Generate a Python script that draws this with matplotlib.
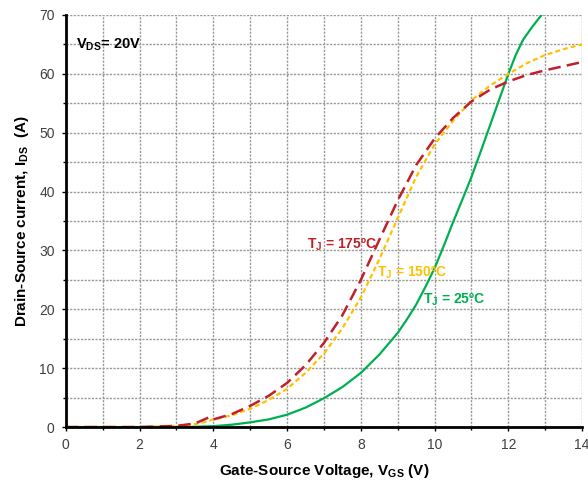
import numpy as np
import matplotlib.pyplot as plt
from matplotlib.ticker import MultipleLocator

plt.rcParams['font.family'] = ['Liberation Sans', 'DejaVu Sans']

# 传输特性曲线数据 (VGS, IDS)
vgs_25 = [0, 1, 2, 3, 3.5, 4, 4.5, 5, 5.5, 6, 6.5, 7, 7.5, 8, 8.5, 9, 9.25, 9.5, 9.75, 10, 10.25, 10.5, 10.75, 11, 11.25, 11.5, 11.75, 12, 12.2, 12.4, 12.65, 12.9]
ids_25 = [0, 0, 0, 0, 0.05, 0.15, 0.4, 0.8, 1.3, 2.1, 3.3, 4.9, 6.8, 9.2, 12.3, 16.0, 18.3, 20.8, 23.8, 27.0, 30.8, 34.8, 38.6, 42.5, 46.8, 51.2, 55.6, 60.0, 63.2, 65.8, 68.0, 70.0]

vgs_150 = [0, 1, 2, 3, 3.5, 3.8, 4.0, 4.5, 5, 5.5, 6, 6.5, 7, 7.5, 8, 8.5, 9, 9.5, 10, 10.5, 11, 11.5, 12, 12.5, 13, 13.5, 14]
ids_150 = [0, 0, 0, 0.2, 0.5, 0.9, 1.3, 2.0, 3.1, 4.6, 6.5, 9.2, 12.5, 16.8, 22.0, 28.5, 35.5, 42.5, 48.0, 52.0, 55.5, 58.0, 60.0, 61.8, 63.2, 64.2, 65.0]

vgs_175 = [0, 1, 2, 3, 3.5, 3.9, 4.0, 4.5, 5, 5.5, 6, 6.5, 7, 7.5, 8, 8.5, 9, 9.5, 10, 10.5, 11, 11.5, 12, 12.5, 13, 13.5, 14]
ids_175 = [0, 0, 0, 0.2, 0.6, 1.7, 1.3, 2.2, 3.6, 5.3, 7.5, 10.5, 14.3, 19.0, 25.0, 31.8, 38.5, 44.5, 49.0, 52.5, 55.3, 57.3, 58.7, 59.8, 60.6, 61.3, 62.0]

fig = plt.figure(figsize=(5.88, 4.82), dpi=100)
ax = fig.add_axes([0.112, 0.114, 0.878, 0.855])

ax.plot(vgs_25, ids_25, color='#00B050', lw=1.6)
ax.plot(vgs_150, ids_150, color='#FFC000', lw=1.6, linestyle=(0, (2.2, 1.4)))
ax.plot(vgs_175, ids_175, color='#C0202A', lw=1.8, linestyle=(0, (5, 2.5)))

ax.set_xlim(0, 14)
ax.set_ylim(0, 70)
ax.xaxis.set_major_locator(MultipleLocator(2))
ax.xaxis.set_minor_locator(MultipleLocator(1))
ax.yaxis.set_major_locator(MultipleLocator(10))
ax.yaxis.set_minor_locator(MultipleLocator(5))

# 网格线
ax.grid(which='both', color='#9a9a9a', linestyle=(0, (1.6, 1)), lw=1.0)
ax.set_axisbelow(True)

for s in ['top', 'right']:
    ax.spines[s].set_visible(False)
for s in ['left', 'bottom']:
    ax.spines[s].set_linewidth(2)
    ax.spines[s].set_color('black')

ax.tick_params(which='major', length=3, width=1, labelsize=10, colors='black', labelcolor='#404040', pad=5)
ax.tick_params(which='minor', length=2, width=1)

ax.set_xlabel('Gate-Source Voltage, V$_{\\mathregular{GS}}$ (V)', fontsize=11, fontweight='bold', labelpad=7)
ax.set_ylabel('Drain-Source current, I$_{\\mathregular{DS}}$  (A)', fontsize=11, fontweight='bold', labelpad=6)

lab = ['Liberation Sans Narrow', 'Liberation Sans', 'DejaVu Sans']
ax.text(0.27, 65, 'V$_{\\mathregular{DS}}$= 20V', fontsize=10.5, fontweight='bold', va='center', family=lab)
ax.text(6.55, 30.9, 'T$_{\\mathregular{J}}$ = 175ºC', fontsize=10, fontweight='bold', color='#C0202A', va='center', family=lab)
ax.text(8.45, 26.2, 'T$_{\\mathregular{J}}$ = 150ºC', fontsize=10, fontweight='bold', color='#FFC000', va='center', family=lab)
ax.text(9.68, 21.6, 'T$_{\\mathregular{J}}$ = 25ºC', fontsize=10, fontweight='bold', color='#00B050', va='center', family=lab)

fig.savefig('out.png', dpi=100)
